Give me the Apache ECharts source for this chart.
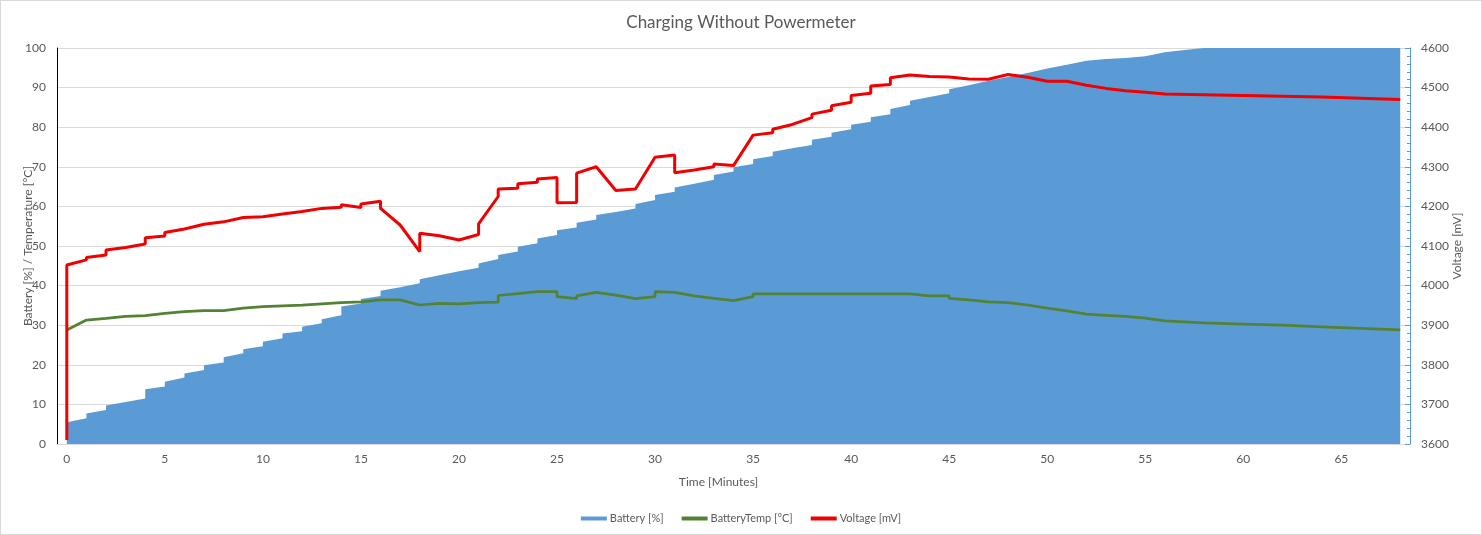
<!DOCTYPE html>
<html>
<head>
<meta charset="utf-8">
<script src="https://cdn.jsdelivr.net/npm/echarts@6/dist/echarts.min.js"></script>
<style>
html,body{margin:0;padding:0;background:#fff}
#c{width:1482px;height:535px}
#b{position:absolute;left:0;top:0;width:1482px;height:535px;box-sizing:border-box;border:1px solid #d9d9d9;pointer-events:none}
</style>
</head>
<body>
<div id="c"></div><div id="b"></div>
<script>
// ---- data (minutes; repeated minutes = two samples logged in the same minute) ----
const batteryTime = [0,1,1,2,2,3,4,4,5,5,6,6,7,7,8,8,9,9,10,10,11,11,12,12,13,13,14,14,15,15,16,16,17,18,18,19,20,21,21,22,22,23,23,24,24,25,25,26,26,27,27,28,29,29,30,30,31,31,32,33,33,34,34,35,35,36,36,37,38,38,39,39,40,40,41,41,42,42,43,43,44,45,45,46,47,48,49,50,51,52,53,54,55,56,57,58,59,60,61,62,63,64,65,66,67,68];
const batteryPct  = [5.5,6.5,7.7,8.6,9.7,10.6,11.5,13.8,14.5,15.7,16.8,17.8,18.7,19.9,20.6,21.9,22.9,23.9,24.7,25.8,26.7,27.9,28.5,29.6,30.5,31.5,32.5,34.7,35.5,36.6,37.4,38.7,39.6,40.6,41.6,42.6,43.6,44.5,45.6,46.7,47.7,48.6,49.8,50.7,51.9,52.8,54.0,54.7,55.9,56.7,57.8,58.6,59.5,60.6,61.6,62.9,63.7,64.8,65.7,66.7,67.9,68.8,69.9,70.7,71.9,72.7,73.8,74.7,75.5,76.8,77.6,78.6,79.5,80.6,81.4,82.5,83.3,84.6,85.6,86.7,87.6,88.6,89.6,90.6,91.7,92.7,93.7,94.8,95.8,96.8,97.2,97.5,97.9,98.9,99.5,100,100,100,100,100,100,100,100,100,100,100];

const tempTime = [0,1,2,2,3,4,4,5,6,7,8,8,9,10,11,12,13,14,14,15,16,17,18,19,20,21,22,22,23,23,24,25,25,26,26,27,28,29,30,30,31,32,33,34,35,35,36,37,38,39,40,41,42,43,44,45,45,46,47,48,49,50,51,52,53,54,55,56,58,60,62,64,66,68];
const tempC    = [28.8,31.3,31.7,32.0,32.2,32.4,32.7,33.0,33.4,33.7,33.7,34.0,34.3,34.7,34.9,35.1,35.4,35.7,35.9,35.9,36.4,36.4,35.1,35.5,35.4,35.7,35.8,37.5,38.0,38.5,38.5,38.5,37.2,36.7,37.4,38.3,37.6,36.7,37.2,38.5,38.3,37.4,36.8,36.2,37.2,37.9,37.9,37.9,37.9,37.9,37.9,37.9,37.9,37.9,37.4,37.4,36.8,36.4,35.9,35.7,35.1,34.3,33.6,32.8,32.5,32.2,31.8,31.1,30.6,30.3,30.0,29.6,29.2,28.8];

const voltTime = [0,0,1,1,2,2,3,4,4,5,5,6,7,7,8,8,9,10,11,11,12,13,13,14,14,15,15,16,16,17,18,18,19,20,21,21,22,22,23,23,24,24,25,25,26,26,27,28,29,30,31,31,32,33,33,34,35,36,36,37,38,38,39,39,40,40,41,41,42,42,43,44,45,45,46,47,48,49,50,51,52,53,54,55,56,58,60,62,64,66,68];
const voltMv   = [3610,4052,4065,4071,4077,4090,4096,4105,4121,4125,4134,4143,4155,4158,4161,4166,4172,4174,4181,4184,4187,4195,4198,4198,4204,4197,4206,4213,4195,4153,4086,4132,4126,4115,4129,4156,4225,4244,4246,4257,4261,4269,4273,4209,4210,4284,4300,4240,4244,4324,4330,4285,4292,4300,4307,4303,4380,4386,4395,4407,4424,4433,4443,4454,4463,4480,4486,4504,4508,4525,4532,4528,4527,4524,4522,4521,4533,4526,4516,4516,4506,4498,4492,4488,4484,4482,4480,4478,4476,4473,4470];

const xTicks = [0,5,10,15,20,25,30,35,40,45,50,55,60,65];
const seriesNames = ['Battery [%]','BatteryTemp [°C]','Voltage [mV]'];

function pairs(t, v){ return t.map((x,i)=>[x, v[i]]); }

const FONT = 'Lato';
const GRAY = '#595959';
const chart = echarts.init(document.getElementById('c'));
chart.setOption({
  animation: false,
  backgroundColor: '#fff',
  title: {
    text: 'Charging Without Powermeter', left: 'center', top: 9,
    textStyle: {fontSize: 17, fontWeight: 'normal', color: GRAY, fontFamily: FONT}
  },
  legend: {
    top: 508, left: 'center', itemWidth: 26, itemHeight: 4, itemGap: 18,
    textStyle: {color: GRAY, fontSize: 11, fontFamily: FONT, padding: [0,0,0,-2]},
    data: seriesNames.map(n => ({name: n, icon: 'rect'}))
  },
  grid: {left: 57, right: 72, top: 48, bottom: 91, outerBoundsMode: 'none', containLabel: false},
  xAxis: {
    type: 'value', min: -0.5, max: 68.5,
    axisLine: {show: true, onZero: false, lineStyle: {color: '#d9d9d9', width: 1}},
    axisTick: {show: false},
    splitLine: {show: false},
    axisLabel: {customValues: xTicks, color: GRAY, fontSize: 12, fontFamily: FONT, margin: 9},
    name: 'Time [Minutes]', nameLocation: 'middle', nameGap: 32, nameMoveOverlap: false,
    nameTextStyle: {color: GRAY, fontSize: 12, fontFamily: FONT, padding: [0,30,0,0]}
  },
  yAxis: [{
    type: 'value', min: 0, max: 100, interval: 10,
    axisLine: {show: true, onZero: false, lineStyle: {color: '#000', width: 1}},
    axisTick: {show: false},
    splitLine: {show: true, lineStyle: {color: '#d9d9d9', width: 1}},
    axisLabel: {color: GRAY, fontSize: 12, fontFamily: FONT, margin: 11},
    name: 'Battery [%] / Temperature [°C]', nameLocation: 'middle', nameRotate: 90, nameGap: 23,
    nameMoveOverlap: false,
    nameTextStyle: {color: GRAY, fontSize: 12, fontFamily: FONT}
  }, {
    type: 'value', position: 'right', min: 3600, max: 4600, interval: 100,
    axisLine: {show: true, onZero: false, lineStyle: {color: '#5b9bd5', width: 1}},
    axisTick: {show: true, inside: true, length: 5, lineStyle: {color: '#5b9bd5'}},
    minorTick: {show: true, splitNumber: 5, length: 3, lineStyle: {color: '#5b9bd5'}},
    splitLine: {show: false},
    axisLabel: {color: GRAY, fontSize: 12, fontFamily: FONT, margin: 11, formatter: v => String(v)},
    name: 'Voltage [mV]', nameLocation: 'middle', nameRotate: 90, nameGap: 41,
    nameMoveOverlap: false,
    nameTextStyle: {color: GRAY, fontSize: 12, fontFamily: FONT}
  }],
  series: [{
    name: seriesNames[0], type: 'line', data: pairs(batteryTime, batteryPct),
    symbol: 'none', lineStyle: {width: 0}, itemStyle: {color: '#5b9bd5'},
    areaStyle: {color: '#5b9bd5', opacity: 1}, z: 1
  }, {
    name: seriesNames[1], type: 'line', data: pairs(tempTime, tempC),
    symbol: 'none', lineStyle: {width: 2.75, color: '#548235'}, itemStyle: {color: '#548235'}, z: 2
  }, {
    name: seriesNames[2], type: 'line', yAxisIndex: 1, data: pairs(voltTime, voltMv),
    symbol: 'none', lineStyle: {width: 3, color: '#f00000'}, itemStyle: {color: '#f00000'}, z: 3
  }]
});
</script>
</body>
</html>
